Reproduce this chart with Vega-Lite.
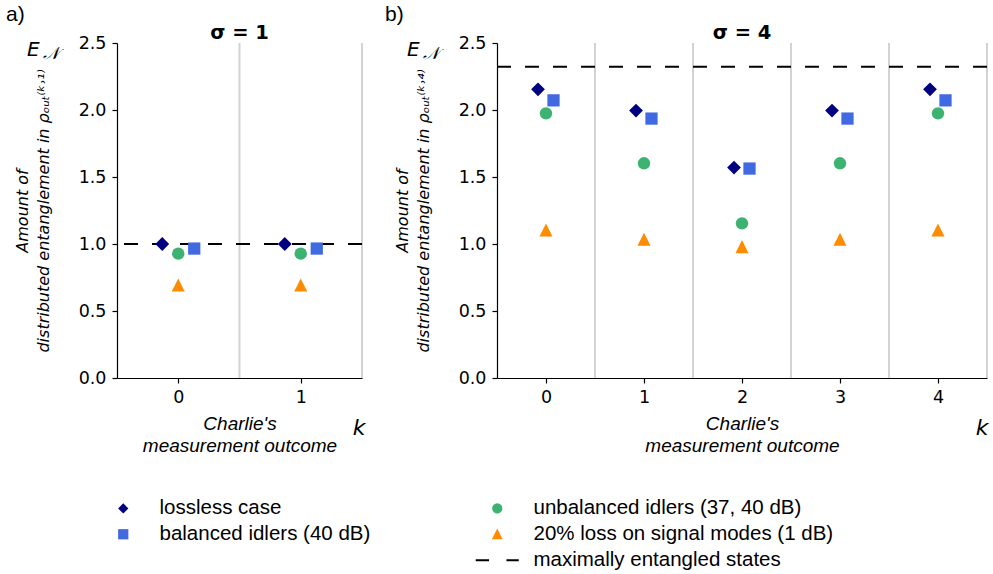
{
  "$schema": "https://vega.github.io/schema/vega-lite/v6.json",
  "background": "white",
  "padding": {"left": 6, "top": 4, "right": 2, "bottom": 2},
  "spacing": 19,
  "datasets": {
    "pointsA": [
      {"k": 0, "series": "lossless case", "value": 1.0},
      {"k": 0, "series": "balanced idlers (40 dB)", "value": 0.966},
      {"k": 0, "series": "unbalanced idlers (37, 40 dB)", "value": 0.928},
      {"k": 0, "series": "20% loss on signal modes (1 dB)", "value": 0.692},
      {"k": 1, "series": "lossless case", "value": 1.0},
      {"k": 1, "series": "balanced idlers (40 dB)", "value": 0.966},
      {"k": 1, "series": "unbalanced idlers (37, 40 dB)", "value": 0.928},
      {"k": 1, "series": "20% loss on signal modes (1 dB)", "value": 0.692}
    ],
    "pointsB": [
      {"k": 0, "series": "lossless case", "value": 2.154},
      {"k": 0, "series": "balanced idlers (40 dB)", "value": 2.072},
      {"k": 0, "series": "unbalanced idlers (37, 40 dB)", "value": 1.975},
      {"k": 0, "series": "20% loss on signal modes (1 dB)", "value": 1.102},
      {"k": 1, "series": "lossless case", "value": 1.996},
      {"k": 1, "series": "balanced idlers (40 dB)", "value": 1.936},
      {"k": 1, "series": "unbalanced idlers (37, 40 dB)", "value": 1.602},
      {"k": 1, "series": "20% loss on signal modes (1 dB)", "value": 1.033},
      {"k": 2, "series": "lossless case", "value": 1.570},
      {"k": 2, "series": "balanced idlers (40 dB)", "value": 1.563},
      {"k": 2, "series": "unbalanced idlers (37, 40 dB)", "value": 1.154},
      {"k": 2, "series": "20% loss on signal modes (1 dB)", "value": 0.978},
      {"k": 3, "series": "lossless case", "value": 1.996},
      {"k": 3, "series": "balanced idlers (40 dB)", "value": 1.936},
      {"k": 3, "series": "unbalanced idlers (37, 40 dB)", "value": 1.602},
      {"k": 3, "series": "20% loss on signal modes (1 dB)", "value": 1.033},
      {"k": 4, "series": "lossless case", "value": 2.154},
      {"k": 4, "series": "balanced idlers (40 dB)", "value": 2.072},
      {"k": 4, "series": "unbalanced idlers (37, 40 dB)", "value": 1.975},
      {"k": 4, "series": "20% loss on signal modes (1 dB)", "value": 1.102}
    ],
    "sepA": [{"b": 0.5}, {"b": 1.5}],
    "sepB": [{"b": 0.5}, {"b": 1.5}, {"b": 2.5}, {"b": 3.5}, {"b": 4.5}],
    "maxA": [{"level": 1.0}],
    "maxB": [{"level": 2.3219}]
  },
  "config": {
    "view": {"stroke": null},
    "axis": {
      "domainColor": "#000000", "domainWidth": 1.2,
      "tickColor": "#000000", "tickWidth": 1.2, "tickSize": 5,
      "labelColor": "#000000", "labelFont": "DejaVu Sans", "labelFontSize": 17.5,
      "labelFlush": false, "grid": false,
      "titleColor": "#000000", "titleFontWeight": "normal", "titleFontStyle": "italic"
    },
    "axisX": {"labelPadding": 5, "titleFont": "Liberation Sans", "titleFontSize": 19, "titleLineHeight": 22, "titlePadding": 9},
    "axisY": {"labelPadding": 6, "titleFont": "DejaVu Sans", "titleFontSize": 16, "titleLineHeight": 21, "titlePadding": 27},
    "legend": {
      "labelFont": "Liberation Sans", "labelFontSize": 20.5, "labelColor": "#000000", "labelLimit": 500,
      "symbolSize": 105, "labelOffset": 26, "columnPadding": 104, "rowPadding": 5, "padding": 0,
      "symbolStrokeWidth": 0, "symbolOpacity": 1
    }
  },
  "resolve": {"scale": {"color": "shared", "shape": "shared"}, "legend": {"color": "shared", "shape": "shared"}},
  "hconcat": [
    {
      "width": 245,
      "height": 335,
      "layer": [
        {
          "data": {"name": "sepA"},
          "mark": {"type": "rule", "color": "#d3d3d3", "strokeWidth": 2},
          "encoding": {"x": {"field": "b", "type": "quantitative", "scale": {"domain": [-0.5, 1.5], "nice": false, "zero": false}}}
        },
        {
          "data": {"name": "maxA"},
          "mark": {"type": "rule", "color": "#000000", "strokeWidth": 2, "strokeDash": [14, 14]},
          "encoding": {"y": {"field": "level", "type": "quantitative", "scale": {"domain": [0, 2.5], "nice": false}}}
        },
        {
          "data": {"name": "pointsA"},
          "encoding": {
            "x": {"field": "k", "type": "quantitative", "scale": {"domain": [-0.5, 1.5], "nice": false, "zero": false},
                  "axis": {"values": [0, 1], "format": "d", "title": ["Charlie's", "measurement outcome"]}},
            "y": {"field": "value", "type": "quantitative", "scale": {"domain": [0, 2.5], "nice": false},
                  "axis": {"values": [0, 0.5, 1, 1.5, 2, 2.5], "format": ".1f", "title": ["Amount of", "distributed entanglement in ρₒᵤₜ⁽ᵏ˒¹⁾"]}},
            "color": {"field": "series", "type": "nominal",
                      "scale": {"domain": ["lossless case", "balanced idlers (40 dB)", " ", "unbalanced idlers (37, 40 dB)", "20% loss on signal modes (1 dB)", "maximally entangled states"],
                                "range": ["#000080", "#4169e1", "transparent", "#3cb371", "#ff8c00", "#000000"]},
                      "legend": {"orient": "none", "legendX": -4, "legendY": 455, "columns": 2, "title": null, "direction": "vertical"}},
            "shape": {"field": "series", "type": "nominal",
                      "scale": {"domain": ["lossless case", "balanced idlers (40 dB)", " ", "unbalanced idlers (37, 40 dB)", "20% loss on signal modes (1 dB)", "maximally entangled states"],
                                "range": ["diamond", "square", "circle", "circle", "M0,-1.1L1.05,1L-1.05,1Z", "M-4.2,-0.2H-1.6V0.2H-4.2Z M1.8,-0.2H4.2V0.2H1.8Z"]},
                      "legend": {"orient": "none", "legendX": -4, "legendY": 455, "columns": 2, "title": null, "direction": "vertical"}}
          },
          "layer": [
            {"transform": [{"filter": {"field": "series", "equal": "lossless case"}}],
             "mark": {"type": "point", "filled": true, "opacity": 1, "size": 190, "xOffset": -16}},
            {"transform": [{"filter": {"field": "series", "oneOf": ["unbalanced idlers (37, 40 dB)", "20% loss on signal modes (1 dB)"]}}],
             "mark": {"type": "point", "filled": true, "opacity": 1, "size": 155}},
            {"transform": [{"filter": {"field": "series", "equal": "balanced idlers (40 dB)"}}],
             "mark": {"type": "point", "filled": true, "opacity": 1, "size": 150, "xOffset": 16}}
          ]
        },
        {
          "data": {"values": [{}]},
          "mark": {"type": "text", "text": "a)", "font": "Liberation Sans", "fontSize": 21, "align": "left", "baseline": "alphabetic", "dx": -111, "dy": -22, "color": "#000000"},
          "encoding": {"x": {"datum": -0.5, "type": "quantitative"}, "y": {"datum": 2.5, "type": "quantitative"}}
        },
        {
          "data": {"values": [{}]},
          "mark": {"type": "text", "text": "σ = 1", "font": "DejaVu Sans", "fontWeight": "bold", "fontSize": 19.5, "align": "center", "baseline": "alphabetic", "dy": -4, "color": "#000000"},
          "encoding": {"x": {"datum": 0.5, "type": "quantitative"}, "y": {"datum": 2.5, "type": "quantitative"}}
        },
        {
          "data": {"values": [{}]},
          "mark": {"type": "text", "text": "E", "font": "DejaVu Sans", "fontStyle": "italic", "fontSize": 20, "align": "left", "baseline": "alphabetic", "dx": -90, "dy": 13, "color": "#000000"},
          "encoding": {"x": {"datum": -0.5, "type": "quantitative"}, "y": {"datum": 2.5, "type": "quantitative"}}
        },
        {
          "data": {"values": [{}]},
          "mark": {"type": "text", "text": "𝒩", "font": "DejaVu Sans", "fontStyle": "italic", "fontSize": 17, "align": "left", "baseline": "alphabetic", "dx": -74, "dy": 16, "color": "#000000"},
          "encoding": {"x": {"datum": -0.5, "type": "quantitative"}, "y": {"datum": 2.5, "type": "quantitative"}}
        },
        {
          "data": {"values": [{}]},
          "mark": {"type": "text", "text": "k", "font": "DejaVu Sans", "fontStyle": "italic", "fontSize": 22, "align": "center", "baseline": "middle", "dx": -3, "dy": 50, "color": "#000000"},
          "encoding": {"x": {"datum": 1.5, "type": "quantitative"}, "y": {"datum": 0, "type": "quantitative"}}
        }
      ]
    },
    {
      "width": 490,
      "height": 335,
      "layer": [
        {
          "data": {"name": "sepB"},
          "mark": {"type": "rule", "color": "#d3d3d3", "strokeWidth": 2},
          "encoding": {"x": {"field": "b", "type": "quantitative", "scale": {"domain": [-0.5, 4.5], "nice": false, "zero": false}}}
        },
        {
          "data": {"name": "maxB"},
          "mark": {"type": "rule", "color": "#000000", "strokeWidth": 2, "strokeDash": [14, 14]},
          "encoding": {"y": {"field": "level", "type": "quantitative", "scale": {"domain": [0, 2.5], "nice": false}}}
        },
        {
          "data": {"name": "pointsB"},
          "encoding": {
            "x": {"field": "k", "type": "quantitative", "scale": {"domain": [-0.5, 4.5], "nice": false, "zero": false},
                  "axis": {"values": [0, 1, 2, 3, 4], "format": "d", "title": ["Charlie's", "measurement outcome"]}},
            "y": {"field": "value", "type": "quantitative", "scale": {"domain": [0, 2.5], "nice": false},
                  "axis": {"values": [0, 0.5, 1, 1.5, 2, 2.5], "format": ".1f", "title": ["Amount of", "distributed entanglement in ρₒᵤₜ⁽ᵏ˒⁴⁾"]}},
            "color": {"field": "series", "type": "nominal",
                      "scale": {"domain": ["lossless case", "balanced idlers (40 dB)", " ", "unbalanced idlers (37, 40 dB)", "20% loss on signal modes (1 dB)", "maximally entangled states"],
                                "range": ["#000080", "#4169e1", "transparent", "#3cb371", "#ff8c00", "#000000"]},
                      "legend": {"orient": "none", "legendX": -4, "legendY": 455, "columns": 2, "title": null, "direction": "vertical"}},
            "shape": {"field": "series", "type": "nominal",
                      "scale": {"domain": ["lossless case", "balanced idlers (40 dB)", " ", "unbalanced idlers (37, 40 dB)", "20% loss on signal modes (1 dB)", "maximally entangled states"],
                                "range": ["diamond", "square", "circle", "circle", "M0,-1.1L1.05,1L-1.05,1Z", "M-4.2,-0.2H-1.6V0.2H-4.2Z M1.8,-0.2H4.2V0.2H1.8Z"]},
                      "legend": {"orient": "none", "legendX": -4, "legendY": 455, "columns": 2, "title": null, "direction": "vertical"}}
          },
          "layer": [
            {"transform": [{"filter": {"field": "series", "equal": "lossless case"}}],
             "mark": {"type": "point", "filled": true, "opacity": 1, "size": 190, "xOffset": -8}},
            {"transform": [{"filter": {"field": "series", "oneOf": ["unbalanced idlers (37, 40 dB)", "20% loss on signal modes (1 dB)"]}}],
             "mark": {"type": "point", "filled": true, "opacity": 1, "size": 155}},
            {"transform": [{"filter": {"field": "series", "equal": "balanced idlers (40 dB)"}}],
             "mark": {"type": "point", "filled": true, "opacity": 1, "size": 150, "xOffset": 7.5}}
          ]
        },
        {
          "data": {"values": [{}]},
          "mark": {"type": "text", "text": "b)", "font": "Liberation Sans", "fontSize": 21, "align": "left", "baseline": "alphabetic", "dx": -112, "dy": -22, "color": "#000000"},
          "encoding": {"x": {"datum": -0.5, "type": "quantitative"}, "y": {"datum": 2.5, "type": "quantitative"}}
        },
        {
          "data": {"values": [{}]},
          "mark": {"type": "text", "text": "σ = 4", "font": "DejaVu Sans", "fontWeight": "bold", "fontSize": 19.5, "align": "center", "baseline": "alphabetic", "dy": -4, "color": "#000000"},
          "encoding": {"x": {"datum": 2, "type": "quantitative"}, "y": {"datum": 2.5, "type": "quantitative"}}
        },
        {
          "data": {"values": [{}]},
          "mark": {"type": "text", "text": "E", "font": "DejaVu Sans", "fontStyle": "italic", "fontSize": 20, "align": "left", "baseline": "alphabetic", "dx": -90, "dy": 13, "color": "#000000"},
          "encoding": {"x": {"datum": -0.5, "type": "quantitative"}, "y": {"datum": 2.5, "type": "quantitative"}}
        },
        {
          "data": {"values": [{}]},
          "mark": {"type": "text", "text": "𝒩", "font": "DejaVu Sans", "fontStyle": "italic", "fontSize": 17, "align": "left", "baseline": "alphabetic", "dx": -74, "dy": 16, "color": "#000000"},
          "encoding": {"x": {"datum": -0.5, "type": "quantitative"}, "y": {"datum": 2.5, "type": "quantitative"}}
        },
        {
          "data": {"values": [{}]},
          "mark": {"type": "text", "text": "k", "font": "DejaVu Sans", "fontStyle": "italic", "fontSize": 22, "align": "center", "baseline": "middle", "dx": -5, "dy": 50, "color": "#000000"},
          "encoding": {"x": {"datum": 4.5, "type": "quantitative"}, "y": {"datum": 0, "type": "quantitative"}}
        }
      ]
    }
  ]
}
